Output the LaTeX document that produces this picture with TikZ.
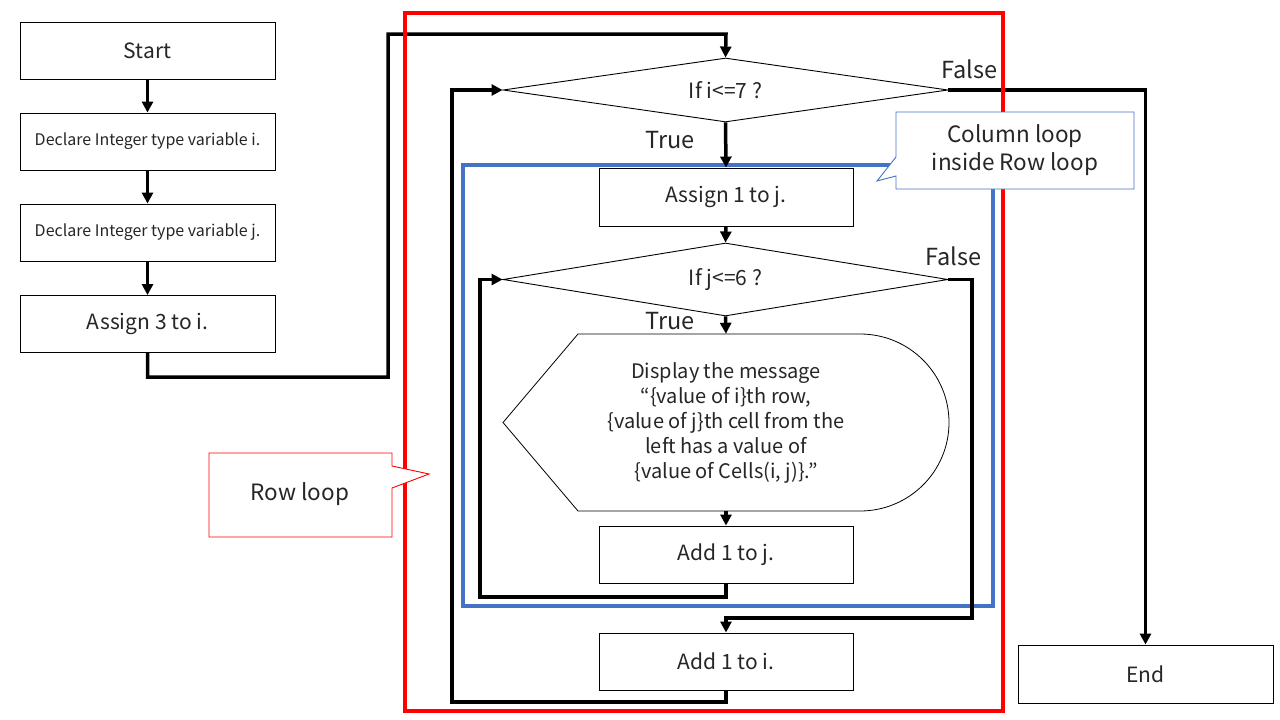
\documentclass[tikz,border=0pt]{standalone}
\usepackage{fontspec}
\setmainfont{Noto Sans CJK JP}
\usetikzlibrary{arrows.meta,shapes.geometric}
\definecolor{rowred}{HTML}{FF0000}
\definecolor{colblue}{HTML}{4472C4}
\definecolor{txt}{HTML}{262626}
\begin{document}
\begin{tikzpicture}[x=1pt,y=-1pt,
  box/.style={draw, line width=0.9pt, fill=white, minimum width=255pt, minimum height=57pt, inner sep=0pt, text=txt, font=\fontsize{21}{25}\selectfont},
  smallbox/.style={box, font=\fontsize{16}{19}\selectfont},
  dia/.style={draw, diamond, line width=0.9pt, inner sep=0pt, text=txt, font=\fontsize{21}{25}\selectfont},
  conn/.style={line width=3.5pt, line join=miter, -{Triangle[length=11pt,width=11pt]}},
  lbl/.style={inner sep=0pt, text=txt, font=\fontsize{23.5}{27}\selectfont},
  frame/.style={line width=3.5pt},
  callout/.style={line width=0.9pt, fill=white}
]
\useasboundingbox (0,0) rectangle (1280,720);
\fill[white] (0,0) rectangle (1280,720);

% inner frame
\draw[frame, colblue] (463,165) rectangle (993,606);

% left column
\node[box] (start) at (147.5,50.5) {Start};
\node[smallbox] (deci) at (147.5,141.5) {Declare Integer type variable i.};
\node[smallbox] (decj) at (147.5,232.5) {Declare Integer type variable j.};
\node[box] (asg3) at (147.5,324) {Assign 3 to i.};

% loop body
\node[dia, minimum width=445pt, minimum height=64pt, shape aspect=6.95] (d1) at (725.5,90) {If i<=7 ?};
\node[box, minimum width=254pt, minimum height=58pt] (asg1) at (726,197) {Assign 1 to j.};
\node[dia, minimum width=445pt, minimum height=73pt, shape aspect=6.1] (d2) at (725.5,279.5) {If j<=6 ?};
\draw[line width=0.8pt] (578,334) -- (860,334)
  .. controls (909.2,334) and (949,373.6) .. (949,422.5)
  .. controls (949,471.4) and (909.2,511) .. (860,511)
  -- (578,511) -- (503,422.5) -- cycle;
\node[minimum width=446pt, minimum height=177pt, inner sep=0pt, align=center, text=txt, font=\fontsize{20}{25}\selectfont] (disp) at (726,422.5)
  {Display the message\\“\{value of i\}th row,\\\{value of j\}th cell from the\\left has a value of\\\{value of Cells(i, j)\}.”};
\node[box, minimum width=254pt, minimum height=57pt] (addj) at (726,554.5) {Add 1 to j.};
\node[box, minimum width=254pt, minimum height=57pt] (addi) at (726,661.5) {Add 1 to i.};
\node[box, minimum width=255pt, minimum height=58pt] (endn) at (1145.5,674) {End};

% labels
\node[lbl] (f1) at (969,69) {False};
\node[lbl] (t1) at (670,140) {True};
\node[lbl] (f2) at (953,256) {False};
\node[lbl] (t2) at (670,321) {True};

% connectors
\draw[conn] (start.south) -- (deci.north);
\draw[conn] (deci.south) -- (decj.north);
\draw[conn] (decj.south) -- (asg3.north);
\draw[conn] (asg3.south) |- (388,377) |- (726,34) -- (d1.north);
\draw[conn] (d1.south) -- (asg1.north);
\draw[conn] (asg1.south) -- (d2.north);
\draw[conn] (d2.south) -- (disp.north);
\draw[conn] (disp.south) -- (addj.north);
\draw[conn] (addj.south) |- (480,597) |- (d2.west);
\draw[conn] (d2.east) -| (972,618) -| (addi.north);
\draw[conn] (addi.south) |- (452,702) |- (d1.west);
\draw[conn] (d1.east) -| (endn.north);

% outer frame
\draw[frame, rowred] (405,13) rectangle (1003,711);

% callouts
\draw[callout, draw=rowred] (209,453) -- (392,453) -- (392,466) -- (429,474) -- (392,488) -- (392,537) -- (209,537) -- cycle;
\node[inner sep=0pt, text=txt, font=\fontsize{22.5}{26}\selectfont] (rowlbl) at (300,494) {Row loop};
\draw[callout, draw=colblue] (896,112) -- (1134,112) -- (1134,189) -- (896,189) -- (896,176) -- (877,181) -- (896,157) -- cycle;
\node[inner sep=0pt, align=center, text=txt, font=\fontsize{22.5}{28}\selectfont] (collbl) at (1015,150) {Column loop\\inside Row loop};
\end{tikzpicture}
\end{document}
